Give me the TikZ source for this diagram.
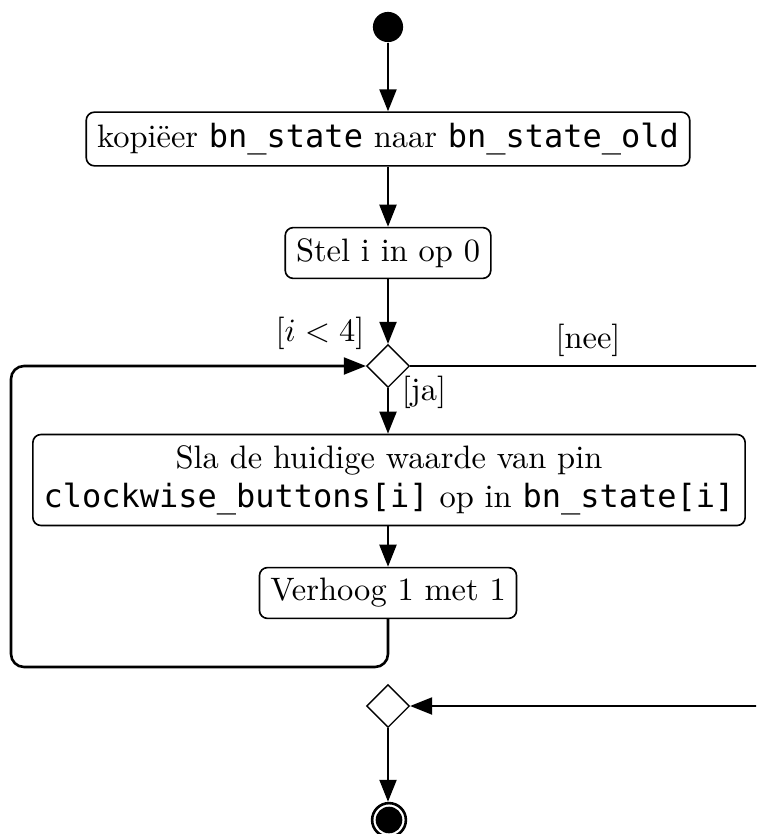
\documentclass[tikz,border=0pt]{standalone}
\usepackage{fontspec}
\setmonofont{DejaVu Sans Mono}[Scale=0.985]
\usetikzlibrary{shapes.geometric,arrows.meta}
\begin{document}
\begin{tikzpicture}[x=0.308pt,y=-0.308pt,
  act/.style={draw, rounded corners=2.5pt, line width=0.5pt, inner sep=3.33pt},
  dec/.style={diamond, draw, line width=0.4pt, minimum size=13.2pt, inner sep=0pt, aspect=1},
  flow/.style={line width=0.8pt, -{Triangle[length=6.8pt,width=5.2pt]}},
  guard/.style={inner sep=0pt}]
\useasboundingbox (0,0) rectangle (756,834);
\clip (0,0) rectangle (756,834);

\node[circle, fill=black, minimum size=9.3pt, inner sep=0pt] (start) at (388,27) {};
\node[act] (b1) at (388,139) {kopiëer \texttt{bn\_state} naar \texttt{bn\_state\_old}};
\node[act] (b2) at (388,253) {Stel i in op 0};
\node[dec] (d1) at (388,366) {};
\node[act, align=center] (b3) at (389,480) {Sla de huidige waarde van pin\\\texttt{clockwise\_buttons[i]} op in \texttt{bn\_state[i]}};
\node[act] (b4) at (388,593) {Verhoog 1 met 1};
\node[dec] (d2) at (388,706) {};
\node[circle, draw, line width=0.8pt, minimum size=10.4pt, inner sep=0pt] (end) at (389,820) {};
\node[circle, fill=black, minimum size=8.2pt, inner sep=0pt] (endin) at (end) {};

\node[guard] (g1) at (320,333) {[$i<4$]};
\node[guard] (g2) at (588,340) {[nee]};
\node[guard] (g3) at (424,392) {[ja]};

\coordinate (lbr) at (388,667);
\coordinate (lbl) at (11,667);
\coordinate (ltl) at (11,366);
\coordinate (rt) at (790,366);
\coordinate (rb) at (790,706);

\draw[flow] (start) -- (b1);
\draw[flow] (b1) -- (b2);
\draw[flow] (b2) -- (d1);
\draw[flow] (d1) -- (d1 |- b3.north);
\draw[flow] (b3.south -| b4) -- (b4);
\draw[flow, rounded corners=4pt] (b4.south) -- (lbr) -- (lbl) -- (ltl) -- (d1.west);
\draw[flow] (d1.east) -- (rt) -- (rb) -- (d2.east);
\draw[flow] (d2) -- (d2 |- end.north);
\end{tikzpicture}
\end{document}
